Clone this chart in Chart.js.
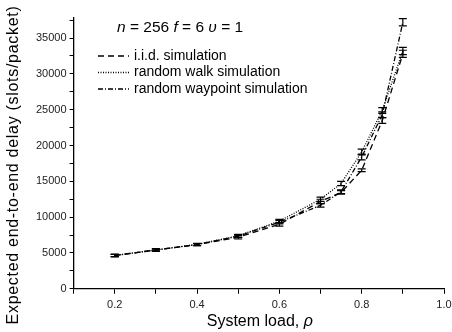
<!DOCTYPE html>
<html>
<head>
<meta charset="utf-8">
<script src="https://cdn.jsdelivr.net/npm/chart.js@4/dist/chart.umd.min.js"></script>
<style>
  body { margin: 0; background: #fff; }
  #wrap { width: 452px; height: 332px; }
</style>
</head>
<body>
<div id="wrap"><canvas id="c"></canvas></div>
<script>
// system load values
const load = [0.2, 0.3, 0.4, 0.5, 0.6, 0.7, 0.75, 0.8, 0.85, 0.9];

// delay values
const iid = [4650, 5420, 6170, 7200, 9000, 12200, 13450, 16550, 23500, 32800];
const randWalk = [4650, 5420, 6200, 7400, 9450, 12500, 14700, 19100, 24900, 33200];
const randWaypoint = [4650, 5420, 6170, 7350, 9300, 11650, 13550, 18400, 24300, 37200];

// half heights of the error bars
const iidErr = [150, 150, 150, 250, 250, 300, 250, 200, 400, 500];
const walkErr = [150, 150, 150, 200, 250, 300, 300, 400, 400, 500];
const waypointErr = [150, 150, 150, 200, 250, 250, 250, 400, 400, 500];

const xTicks = [0.2, 0.4, 0.6, 0.8, 1.0];
const FONT = '"Liberation Sans", Arial, sans-serif';

function pts(vals) {
    return load.map((x, i) => ({ x: x, y: vals[i] }));
}

const errBars = {
    id: 'errBars',
    afterDatasetsDraw(chart) {
        const ctx = chart.ctx;
        const xs = chart.scales.x, ys = chart.scales.y;
        const errs = [iidErr, walkErr, waypointErr];
        const vals = [iid, randWalk, randWaypoint];
        ctx.save();
        ctx.strokeStyle = '#000';
        ctx.lineWidth = 1.2;
        for (let d = 0; d < 3; d++) {
            for (let i = 0; i < load.length; i++) {
                const px = xs.getPixelForValue(load[i]);
                const top = ys.getPixelForValue(vals[d][i] + errs[d][i]);
                const bot = ys.getPixelForValue(vals[d][i] - errs[d][i]);
                ctx.beginPath();
                ctx.moveTo(px, top); ctx.lineTo(px, bot);
                ctx.moveTo(px - 4, top); ctx.lineTo(px + 4, top);
                ctx.moveTo(px - 4, bot); ctx.lineTo(px + 4, bot);
                ctx.stroke();
            }
        }
        ctx.restore();
    }
};

const labelsPlugin = {
    id: 'labelsPlugin',
    afterDraw(chart) {
        const ctx = chart.ctx;
        const area = chart.chartArea;
        ctx.save();
        ctx.fillStyle = '#000';
        ctx.textBaseline = 'middle';
        // header text with italic symbols
        let x = 117;
        const y = 28;
        const parts = [['n', true], [' = 256 ', false], ['f', true], [' = 6 ', false], ['\u03c5', true], [' = 1', false]];
        for (const [t, it] of parts) {
            ctx.font = (it ? 'italic ' : '') + '15.5px ' + FONT;
            ctx.fillText(t, x, y);
            x += ctx.measureText(t).width;
        }
        // legend
        const names = ['i.i.d. simulation', 'random walk simulation', 'random waypoint simulation'];
        const dashes = [[6, 4], [1, 1.5], [5, 2, 1, 2]];
        ctx.font = '14px ' + FONT;
        for (let i = 0; i < 3; i++) {
            const ly = 56 + i * 16.5;
            ctx.setLineDash(dashes[i]);
            ctx.lineWidth = 1.3;
            ctx.strokeStyle = '#000';
            ctx.beginPath();
            ctx.moveTo(98, ly); ctx.lineTo(129, ly);
            ctx.stroke();
            ctx.fillText(names[i], 134, ly);
        }
        ctx.setLineDash([]);
        // x axis title
        ctx.font = '16px ' + FONT;
        const xt = 'System load, ';
        const wx = ctx.measureText(xt).width;
        ctx.font = 'italic 16px ' + FONT;
        const wr = ctx.measureText('\u03c1').width;
        const cx = (area.left + area.right) / 2 + 1;
        ctx.font = '16px ' + FONT;
        ctx.fillText(xt, cx - (wx + wr) / 2, 322);
        ctx.font = 'italic 16px ' + FONT;
        ctx.fillText('\u03c1', cx - (wx + wr) / 2 + wx, 322);
        // y axis title
        ctx.translate(14, 165);
        ctx.rotate(-Math.PI / 2);
        ctx.font = '16px ' + FONT;
        ctx.letterSpacing = '0.7px';
        ctx.textAlign = 'center';
        ctx.fillText('Expected end-to-end delay (slots/packet)', 0, 0);
        ctx.restore();
    }
};

new Chart(document.getElementById('c'), {
    type: 'line',
    data: {
        datasets: [{
            label: 'i.i.d. simulation',
            data: pts(iid),
            borderColor: '#000',
            borderWidth: 1.3,
            borderDash: [6, 4],
            pointRadius: 0
        }, {
            label: 'random walk simulation',
            data: pts(randWalk),
            borderColor: '#000',
            borderWidth: 1.3,
            borderDash: [1, 1.5],
            pointRadius: 0
        }, {
            label: 'random waypoint simulation',
            data: pts(randWaypoint),
            borderColor: '#000',
            borderWidth: 1.3,
            borderDash: [5, 2, 1, 2],
            pointRadius: 0
        }]
    },
    options: {
        responsive: true,
        maintainAspectRatio: false,
        animation: false,
        layout: { padding: { top: 18, right: 0, left: 33, bottom: 15 } },
        plugins: { legend: { display: false }, tooltip: { enabled: false } },
        scales: {
            x: {
                type: 'linear',
                min: 0.1,
                max: 1.0,
                afterBuildTicks(axis) {
                    const t = [];
                    for (let k = 1; k <= 10; k++) t.push({ value: k / 10 });
                    axis.ticks = t;
                },
                afterFit(axis) {
                    axis.paddingRight = 8;
                },
                ticks: {
                    color: '#222',
                    font: { size: 11, family: FONT },
                    padding: 5,
                    maxRotation: 0,
                    autoSkip: false,
                    callback: (v) => {
                        const m = xTicks.find(t => Math.abs(t - v) < 1e-6);
                        return m === undefined ? '' : m.toFixed(1);
                    }
                },
                grid: { drawOnChartArea: false, tickLength: 5, color: '#000', tickColor: '#000' },
                border: { color: '#000', width: 1.3 }
            },
            y: {
                min: 0,
                max: 37800,
                afterBuildTicks(axis) {
                    const t = [];
                    for (let v = 0; v <= 37500; v += 2500) t.push({ value: v });
                    axis.ticks = t;
                },
                ticks: {
                    color: '#222',
                    font: { size: 11, family: FONT },
                    padding: 3,
                    autoSkip: false,
                    callback: (v) => (v % 5000 === 0 ? String(v) : '')
                },
                grid: { drawOnChartArea: false, tickLength: 4, color: '#000', tickColor: '#000' },
                border: { color: '#000', width: 1.3 }
            }
        }
    },
    plugins: [errBars, labelsPlugin]
});
</script>
</body>
</html>
